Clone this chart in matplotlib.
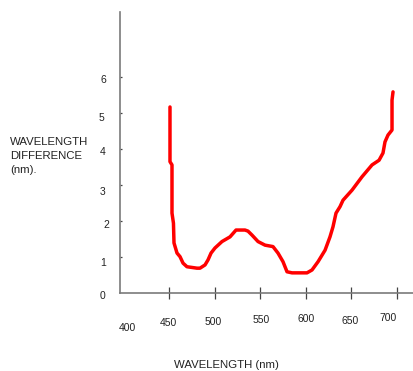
import matplotlib
matplotlib.use("Agg")
import matplotlib.pyplot as plt

###############################################################
# Data
###############################################################
wavelength = [451.1, 451.1, 453.3, 453.3, 454.9, 455.5, 458.8, 462.1, 465.4,
              469.7, 480.7, 484.0, 489.5, 492.8, 496.1, 500.4, 508.1, 516.9,
              523.5, 533.3, 536.6, 541.0, 547.6, 555.3, 564.0, 569.5, 575.0,
              579.4, 584.9, 601.3, 606.8, 613.4, 621.1, 626.5, 629.8, 633.1,
              637.5, 640.8, 650.7, 661.6, 672.6, 680.3, 684.6, 686.8, 690.1,
              694.5, 694.5, 695.6]
difference = [5.17, 3.65, 3.56, 2.22, 1.94, 1.39, 1.11, 1.01, 0.83,
              0.73, 0.69, 0.69, 0.78, 0.92, 1.11, 1.25, 1.43, 1.56,
              1.75, 1.75, 1.72, 1.61, 1.43, 1.33, 1.29, 1.11, 0.87,
              0.59, 0.56, 0.56, 0.64, 0.87, 1.19, 1.56, 1.84, 2.22,
              2.40, 2.58, 2.86, 3.23, 3.56, 3.69, 3.89, 4.20, 4.39,
              4.53, 5.36, 5.59]

x_ticks = [450, 500, 550, 600, 650, 700]
x_labels = ['400', '450', '500', '550', '600', '650', '700']
x_label_values = [400, 450, 500, 550, 600, 650, 700]
y_ticks = [1, 2, 3, 4, 5, 6]
y_labels = ['0', '1', '2', '3', '4', '5', '6']
y_label_values = [0, 1, 2, 3, 4, 5, 6]

# hand-placed look of the original labels (pixel offsets)
x_label_dx = [3.6, -1, -1.6, 0.8, 0, -1.4, -9]
x_label_dy = [-35, -30, -29, -27, -26, -28, -25]
y_label_dx = [-17, -17, -14, -17, -17, -19, -17]
y_label_dy = [-3, -6, -4, -6.7, -3, -5, -3]

###############################################################
# Figure
###############################################################
dpi = 100
fig = plt.figure(figsize=(4.14, 3.71), dpi=dpi)
plt.rcParams['font.family'] = ['Liberation Sans', 'DejaVu Sans']

ax = fig.add_axes([120 / 414, (371 - 293) / 371, 294 / 414, 281 / 371])
ax.plot(wavelength, difference, color='#ff0000', linewidth=2.5,
        solid_joinstyle='round', solid_capstyle='round')

ax.set_xlim(396.3, 718.6)
ax.set_ylim(0, 7.81)

for side in ['top', 'right']:
    ax.spines[side].set_visible(False)
for side in ['left', 'bottom']:
    ax.spines[side].set_color('#7a7a7a')
    ax.spines[side].set_linewidth(1.2)

ax.set_xticks(x_ticks)
ax.set_yticks(y_ticks)
ax.tick_params(axis='x', direction='inout', length=9, width=0.9,
               color='#444444', labelbottom=False)
ax.tick_params(axis='y', direction='in', length=1.5, width=0.9,
               color='#444444', labelleft=False)

# px -> points
pt = 72.0 / dpi
for val, lab, dx, dy in zip(x_label_values, x_labels, x_label_dx, x_label_dy):
    ax.annotate(lab, xy=(val, 0), xytext=(dx * pt, dy * pt),
                textcoords='offset points', ha='center', va='center',
                fontsize=7.5, color='#222222', annotation_clip=False)
for val, lab, dx, dy in zip(y_label_values, y_labels, y_label_dx, y_label_dy):
    ax.annotate(lab, xy=(396.3, val), xytext=(dx * pt, dy * pt),
                textcoords='offset points', ha='center', va='center',
                fontsize=7.5, color='#222222', annotation_clip=False)

fig.text(10 / 414, 1 - 156 / 371, 'WAVELENGTH\nDIFFERENCE\n(nm).',
         ha='left', va='center', fontsize=8.2, color='#222222', linespacing=1.45)
fig.text(226 / 414, 1 - 365 / 371, 'WAVELENGTH (nm)',
         ha='center', va='center', fontsize=8.2, color='#222222')

fig.savefig('out.png', dpi=dpi)
